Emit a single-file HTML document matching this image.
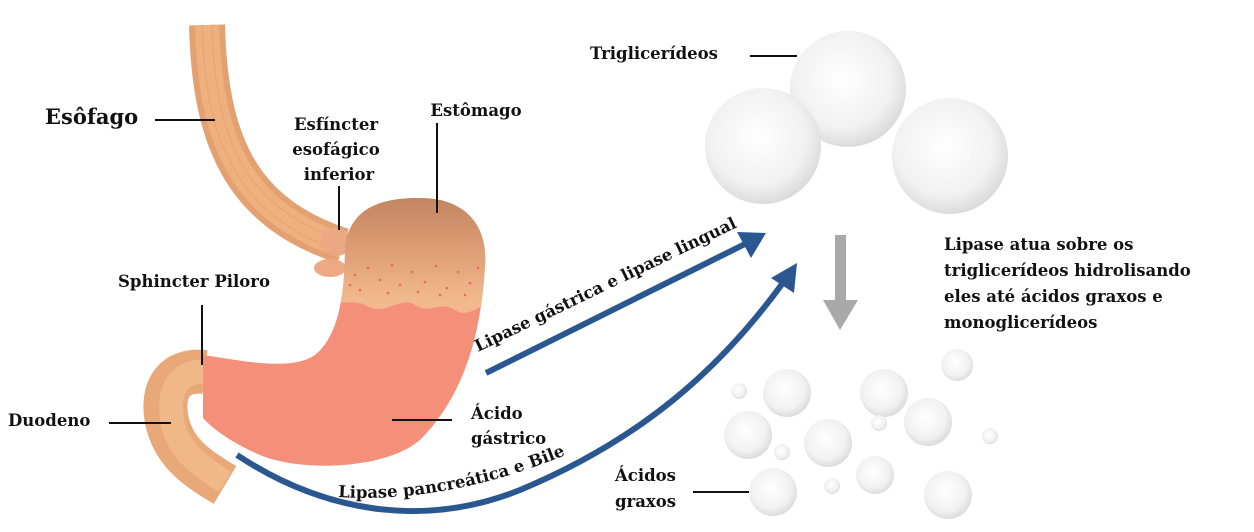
<!DOCTYPE html>
<html><head><meta charset="utf-8"><style>
html,body{margin:0;padding:0;background:#fff;}
svg{display:block;}
text{font-family:"DejaVu Serif","Liberation Serif",serif;font-weight:bold;fill:#111;}
</style></head><body>
<svg width="1254" height="532" viewBox="0 0 1254 532" xmlns="http://www.w3.org/2000/svg">
<defs>
<radialGradient id="sph" cx="45%" cy="42%" r="60%">
<stop offset="0" stop-color="#ffffff"/><stop offset="0.7" stop-color="#f1f1f1"/><stop offset="1" stop-color="#d9d9d9"/>
</radialGradient>
<linearGradient id="top" x1="0" y1="195" x2="0" y2="300" gradientUnits="userSpaceOnUse">
<stop offset="0" stop-color="#c08462"/><stop offset="0.45" stop-color="#d99a70"/><stop offset="1" stop-color="#f2b88e"/>
</linearGradient>
<clipPath id="sc"><path d="M345,245 C352,205 385,198 420,198 C465,198 488,225 485,265 C482,320 470,390 420,440 C385,470 300,472 260,455 C230,442 212,428 203,418 L203,355 C240,360 290,372 315,355 C340,335 345,290 345,245 Z"/></clipPath>
<path id="t1" d="M478,352 L748,222"/>
<path id="t2" d="M338,497 Q460,505 600,440"/>
</defs>

<!-- esophagus -->
<path d="M207,25 C210,140 240,212 343,246" fill="none" stroke="#e3a171" stroke-width="36"/>
<path d="M207,25 C210,140 240,212 343,246" fill="none" stroke="#eeb07f" stroke-width="24"/>
<path d="M202,25 C205,140 236,216 341,251" fill="none" stroke="#e0a070" stroke-width="1.2" opacity=".6"/>
<path d="M212,25 C215,140 244,208 345,241" fill="none" stroke="#e0a070" stroke-width="1.2" opacity=".6"/>
<ellipse cx="336" cy="242" rx="16" ry="14" fill="#eba882"/>
<ellipse cx="330" cy="268" rx="16" ry="9" fill="#eda886"/>

<!-- duodenum -->
<path d="M205,372 C170,368 160,395 168,425 C176,455 200,470 225,485" fill="none" stroke="#e8a877" stroke-width="44" stroke-linecap="butt"/>
<path d="M205,372 C175,370 167,395 173,425 C180,452 200,466 225,482" fill="none" stroke="#f0b789" stroke-width="24"/>

<!-- stomach -->
<g clip-path="url(#sc)">
<rect x="190" y="190" width="310" height="290" fill="#f4907a"/>
<path d="M330,190 L500,190 L500,305 C480,300 470,320 455,310 C440,300 430,315 415,305 C400,295 385,318 365,305 C355,300 345,305 330,300 Z" fill="url(#top)"/>
<g fill="#e86a5a">
<circle cx="355" cy="275" r="1.3"/><circle cx="368" cy="268" r="1.3"/><circle cx="380" cy="280" r="1.3"/><circle cx="392" cy="265" r="1.3"/><circle cx="400" cy="285" r="1.3"/><circle cx="412" cy="272" r="1.3"/><circle cx="425" cy="282" r="1.3"/><circle cx="436" cy="266" r="1.3"/><circle cx="447" cy="288" r="1.3"/><circle cx="458" cy="272" r="1.3"/><circle cx="470" cy="283" r="1.3"/><circle cx="478" cy="268" r="1.3"/><circle cx="360" cy="290" r="1.3"/><circle cx="388" cy="293" r="1.3"/><circle cx="418" cy="292" r="1.3"/><circle cx="440" cy="295" r="1.3"/><circle cx="465" cy="295" r="1.3"/><circle cx="350" cy="285" r="1.3"/>
</g>
</g>

<!-- blue arrows -->
<g stroke="#2b5791" fill="#2b5791">
<path d="M486,373 L745,244" stroke-width="6" fill="none"/>
<polygon points="766,233 737,232 751,258" stroke="none"/>
<path d="M237,455 C320,510 420,530 520,490 C640,440 720,370 785,280" stroke-width="6" fill="none"/>
<polygon points="797,263 771,278 794,293" stroke="none"/>
</g>
<text font-size="16.5"><textPath href="#t1">Lipase gástrica e lipase lingual</textPath></text>
<text font-size="16.5"><textPath href="#t2">Lipase pancreática e Bile</textPath></text>

<circle cx="848" cy="89" r="58" fill="url(#sph)"/>
<circle cx="763" cy="146" r="58" fill="url(#sph)"/>
<circle cx="950" cy="156" r="58" fill="url(#sph)"/>

<rect x="835" y="235" width="11" height="66" fill="#a9a9a9"/>
<polygon points="823,300 858,300 840,330" fill="#a9a9a9"/>

<g fill="url(#sph)">
<circle cx="787" cy="393" r="24"/><circle cx="739" cy="391" r="8"/><circle cx="748" cy="435" r="24"/><circle cx="782" cy="452" r="8"/><circle cx="828" cy="443" r="24"/><circle cx="884" cy="393" r="24"/><circle cx="879" cy="423" r="8"/><circle cx="928" cy="422" r="24"/><circle cx="957" cy="365" r="16"/><circle cx="990" cy="436" r="8"/><circle cx="875" cy="475" r="19"/><circle cx="832" cy="486" r="8"/><circle cx="773" cy="492" r="24"/><circle cx="948" cy="495" r="24"/>
</g>

<g stroke="#111" stroke-width="2">
<line x1="155" y1="120" x2="215" y2="120"/>
<line x1="339" y1="186" x2="339" y2="230"/>
<line x1="437" y1="123" x2="437" y2="213"/>
<line x1="202" y1="305" x2="202" y2="365"/>
<line x1="109" y1="423" x2="171" y2="423"/>
<line x1="392" y1="420" x2="452" y2="420"/>
<line x1="750" y1="56" x2="797" y2="56"/>
<line x1="693" y1="492" x2="749" y2="492"/>
</g>

<text x="45" y="124" font-size="21">Esôfago</text>
<text x="336" y="130" font-size="16.5" text-anchor="middle">Esfíncter</text>
<text x="336" y="155" font-size="16.5" text-anchor="middle">esofágico</text>
<text x="339" y="180" font-size="16.5" text-anchor="middle">inferior</text>
<text x="476" y="116" font-size="16.5" text-anchor="middle">Estômago</text>
<text x="118" y="287" font-size="16.5">Sphincter Piloro</text>
<text x="8" y="426" font-size="16.5">Duodeno</text>
<text x="471" y="419" font-size="16.5">Ácido</text>
<text x="471" y="444" font-size="16.5">gástrico</text>
<text x="590" y="59" font-size="16.5">Triglicerídeos</text>
<text x="615" y="481" font-size="16.5">Ácidos</text>
<text x="615" y="507" font-size="16.5">graxos</text>
<text x="944" y="250" font-size="16.5">Lipase atua sobre os</text>
<text x="944" y="276" font-size="16.5">triglicerídeos hidrolisando</text>
<text x="944" y="302" font-size="16.5">eles até ácidos graxos e</text>
<text x="944" y="328" font-size="16.5">monoglicerídeos</text>
</svg>
</body></html>
